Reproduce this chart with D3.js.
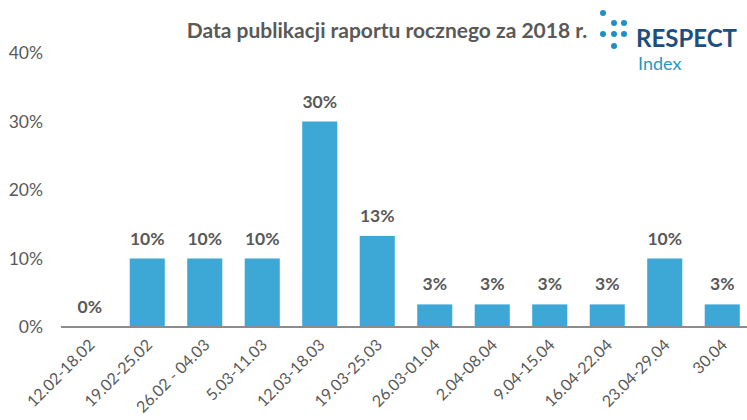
<!DOCTYPE html>
<html>
<head>
<meta charset="utf-8">
<script src="https://cdn.jsdelivr.net/npm/d3@7"></script>
<style>
  body { margin: 0; background: #fff; }
  svg { display: block; font-family: Lato, "Noto Sans", sans-serif; }
</style>
</head>
<body>
<div id="chart"></div>
<script>
// Share of companies publishing the annual report in each week (%)
const weeks = ['12.02-18.02', '19.02-25.02', '26.02 - 04.03', '5.03-11.03', '12.03-18.03',
    '19.03-25.03', '26.03-01.04', '2.04-08.04', '9.04-15.04', '16.04-22.04', '23.04-29.04', '30.04'];
const shares = [0, 10, 10, 10, 30, 13.3, 3.3, 3.3, 3.3, 3.3, 10, 3.3];
const yTicks = [0, 10, 20, 30, 40];

const width = 747, height = 420;
const margin = {top: 53, right: -4, bottom: 93, left: 61};

const svg = d3.select('#chart')
    .append('svg')
    .attr('width', width)
    .attr('height', height);

const x = d3.scaleBand()
    .domain(weeks)
    .range([margin.left, width - margin.right])
    .paddingInner(0.39)
    .paddingOuter(0.195);

const y = d3.scaleLinear()
    .domain([0, 40])
    .range([height - margin.bottom, margin.top]);

// y tick labels (no axis line, no gridlines)
svg.append('g')
    .selectAll('text')
    .data(yTicks)
    .join('text')
    .attr('x', 43)
    .attr('y', d => y(d))
    .attr('dy', '0.35em')
    .attr('text-anchor', 'end')
    .style('font-size', '17.5px')
    .style('fill', '#595959')
    .text(d => d + '%');

// bars
svg.append('g')
    .selectAll('rect')
    .data(shares)
    .join('rect')
    .attr('x', (d, i) => x(weeks[i]))
    .attr('y', d => y(d))
    .attr('width', x.bandwidth())
    .attr('height', d => y(0) - y(d))
    .attr('fill', '#3da8d6');

// value labels
svg.append('g')
    .selectAll('text')
    .data(shares)
    .join('text')
    .attr('x', (d, i) => x(weeks[i]) + x.bandwidth() / 2)
    .attr('y', d => y(d) - 14)
    .attr('text-anchor', 'middle')
    .style('font-size', '17.5px')
    .style('font-weight', 'bold')
    .style('fill', '#595959')
    .text(d => Math.round(d) + '%');

// baseline
svg.append('line')
    .attr('x1', margin.left)
    .attr('x2', width)
    .attr('y1', y(0))
    .attr('y2', y(0))
    .attr('stroke', '#8c8c8c')
    .attr('stroke-width', 2);

// x labels, rotated
svg.append('g')
    .selectAll('text')
    .data(weeks)
    .join('text')
    .attr('transform', d => {
        const cx = x(d) + x.bandwidth() / 2 + 2;
        return `translate(${cx},${y(0) + 15}) rotate(-45)`;
    })
    .attr('text-anchor', 'end')
    .attr('dy', '0.35em')
    .style('font-size', '16px')
    .style('fill', '#595959')
    .text(d => d);

// title
svg.append('text')
    .attr('x', 387)
    .attr('y', 38)
    .attr('text-anchor', 'middle')
    .style('font-size', '21px')
    .style('font-weight', 'bold')
    .style('fill', '#595959')
    .text('Data publikacji raportu rocznego za 2018 r.');

// RESPECT Index logo
const logo = svg.append('g');
const dots = [[603, 13], [614, 23], [624, 23], [603, 34], [614, 34], [624, 34], [614, 46]];
logo.selectAll('circle')
    .data(dots)
    .join('circle')
    .attr('cx', d => d[0])
    .attr('cy', d => d[1])
    .attr('r', 3)
    .attr('fill', '#1f8fc4');
logo.append('text')
    .attr('x', 636)
    .attr('y', 47)
    .style('font-size', '24px')
    .style('font-weight', 'bold')
    .style('fill', '#1c4e7e')
    .text('RESPECT');
logo.append('text')
    .attr('x', 638)
    .attr('y', 70)
    .style('font-size', '18px')
    .style('fill', '#2a97c4')
    .text('Index');
</script>
</body>
</html>
